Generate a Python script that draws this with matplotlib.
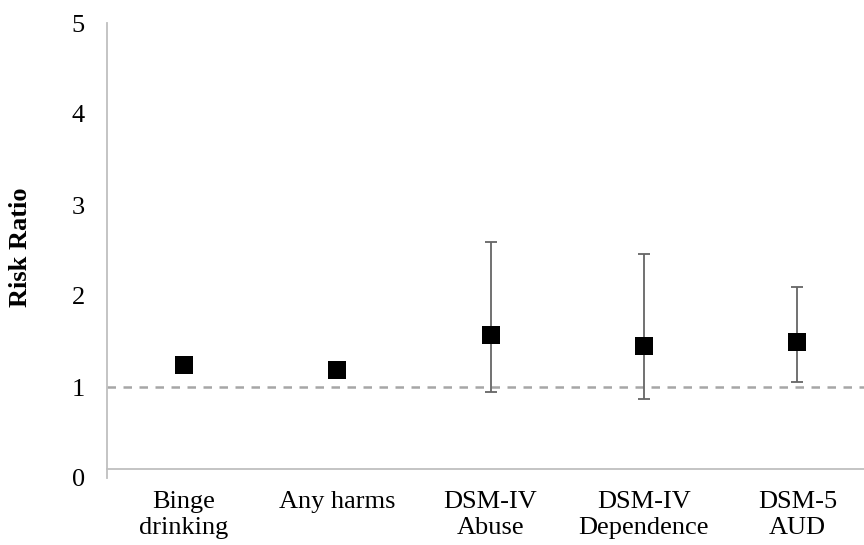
import numpy as np
import matplotlib
matplotlib.use("Agg")
import matplotlib.pyplot as plt

categories = ["Binge\ndrinking", "Any harms", "DSM-IV\nAbuse", "DSM-IV\nDependence", "DSM-5\nAUD"]
risk_ratio = [1.24, 1.19, 1.57, 1.45, 1.49]
ci_lower = [np.nan, np.nan, 0.95, 0.865, 1.06]
ci_upper = [np.nan, np.nan, 2.59, 2.46, 2.10]
y_ticks = [0, 1, 2, 3, 4, 5]
y_label = "Risk Ratio"

plt.rcParams["font.family"] = ["Liberation Serif", "DejaVu Serif"]

W, H = 864, 545
fig = plt.figure(figsize=(W / 100, H / 100), dpi=100)
ax_left, ax_top, ax_bottom = 107, 23, 478
ax_w = 767
ax = fig.add_axes([ax_left / W, (H - ax_bottom) / H, ax_w / W, (ax_bottom - ax_top) / H])

x = np.arange(len(categories))
rr = np.array(risk_ratio)
lo = np.array(ci_lower)
hi = np.array(ci_upper)
m = ~np.isnan(lo)

ax.axhline(1, color="#A6A6A6", lw=1.8, linestyle=(0, (3.4, 3.0)), zorder=1)
ax.errorbar(x[m], rr[m], yerr=[rr[m] - lo[m], hi[m] - rr[m]], fmt="none",
            ecolor="#666666", elinewidth=1.3, capsize=4.3, capthick=1.3, zorder=2)
ax.plot(x, rr, linestyle="none", marker="s", markersize=12.5, color="black",
        markeredgewidth=0, zorder=3)

ax.set_xlim(-0.5, 4.5)
ax.set_ylim(0, 5)
ax.set_yticks(y_ticks)
ax.set_yticklabels([str(t) for t in y_ticks])
ax.set_xticks(x)
ax.set_xticklabels(categories)
ax.tick_params(axis="y", length=0, pad=16, labelsize=19)
ax.tick_params(axis="x", length=0, pad=16, labelsize=19)
for lab in ax.get_xticklabels():
    lab.set_linespacing(1.12)

for s in ["top", "right"]:
    ax.spines[s].set_visible(False)
ax.spines["left"].set_color("#BFBFBF")
ax.spines["left"].set_linewidth(1.3)
ax.spines["bottom"].set_color("#BFBFBF")
ax.spines["bottom"].set_linewidth(1.3)
ax.spines["bottom"].set_position(("data", 0.1))

fig.text(21 / W, 1 - 247 / H, y_label, rotation=90, ha="center", va="center",
         fontsize=19, fontweight="bold")

fig.savefig("out.png", dpi=100)
